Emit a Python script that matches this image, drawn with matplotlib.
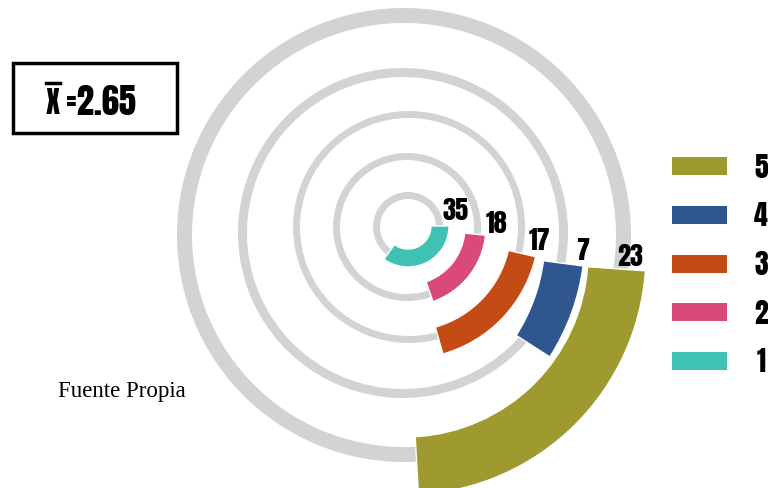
import math
import matplotlib
matplotlib.use("Agg")
import matplotlib.pyplot as plt
from matplotlib.patches import Wedge, Rectangle

# data
categories = ["1", "2", "3", "4", "5"]
counts = [35, 18, 17, 7, 23]
colors = ["#3fc1b4", "#d94a78", "#c44b14", "#2f568e", "#9e9a2f"]

mean = sum(int(c) * n for c, n in zip(categories, counts)) / sum(counts)

# layout in pixel coords (x right, y down)
# background rings: (cx, cy, outer radius, width)
rings = [(408, 228, 35, 7), (407, 228, 74, 7), (409, 228, 116, 7),
         (403, 234, 165, 9), (404, 236, 227, 15)]
# colored arcs: (cx, cy, inner r, outer r, start angle deg clockwise from east)
arcs = [(408, 227, 23, 41, 0), (407, 228, 58, 79, 6), (407, 228, 104, 132, 13),
        (363, 238, 182, 222, 7.5), (405, 255, 183, 241, 4)]
label_off = [(7, -16), (11, -13), (4, -17), (0, -16), (-15, -15)]

bold_font = ["Anton", "DejaVu Sans"]

fig = plt.figure(figsize=(7.68, 4.89), dpi=100)
ax = fig.add_axes([0, 0, 1, 1])
ax.set_xlim(0, 768)
ax.set_ylim(489, 0)
ax.axis("off")

for cx, cy, r, w in rings:
    ax.add_patch(Wedge((cx, cy), r, 0, 360, width=w, color="#d1d3d4", lw=0))

for i, n in enumerate(counts):
    cx, cy, r0, r1, start = arcs[i]
    span = n * 3.6
    ax.add_patch(Wedge((cx, cy), r1, start, start + span, width=r1 - r0,
                       facecolor=colors[i], edgecolor="white", lw=1))
    # value label just above the start corner of the arc
    px = cx + r1 * math.cos(math.radians(start))
    py = cy + r1 * math.sin(math.radians(start))
    dx, dy = label_off[i]
    ax.text(px + dx, py + dy, str(n), ha="center", va="center",
            fontsize=19, family=bold_font)

# legend (top = 5)
for i, cat in enumerate(categories):
    y = 362 - i * 48.75
    ax.add_patch(Rectangle((672, y - 9), 55, 18, color=colors[i], lw=0))
    ax.text(761, y, cat, ha="center", va="center", fontsize=20,
            family=bold_font)

# mean box
ax.add_patch(Rectangle((13, 64), 164, 70, fill=False, ec="black", lw=2.5))
ax.text(53, 114, "X", ha="center", va="baseline", fontsize=21, family=bold_font)
ax.plot([46, 60], [84, 84], color="black", lw=2.5)
ax.text(66, 115, "=%.2f" % mean, ha="left", va="baseline", fontsize=25,
        family=bold_font)

ax.text(58, 392, "Fuente Propia", ha="left", va="center", fontsize=16.5,
        family=["Liberation Serif", "DejaVu Serif"])

fig.savefig("out.png", dpi=100)
